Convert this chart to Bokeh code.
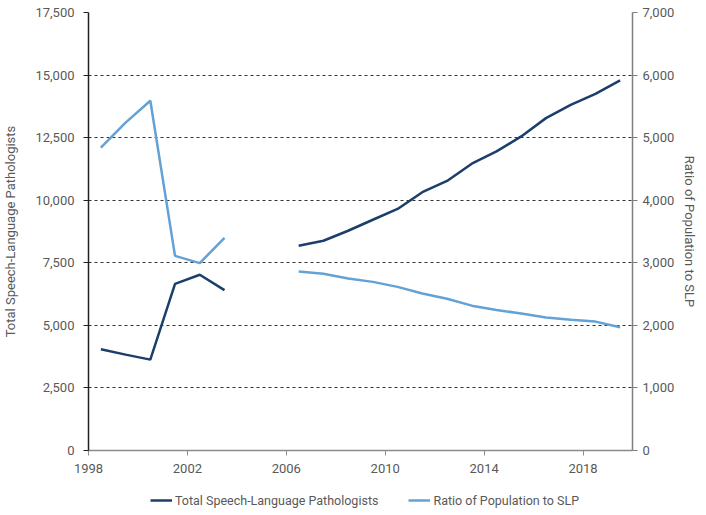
from bokeh.plotting import figure
from bokeh.models import (Range1d, LinearAxis, FixedTicker, NumeralTickFormatter,
                          Legend, LegendItem, ColumnDataSource)
from bokeh.layouts import column
from bokeh.embed import file_html
from bokeh.resources import INLINE
import numpy as np

# ---- data ----
years = list(range(1998, 2020))
total_slp = [4045, 3830, 3630, 6660, 7020, 6410, np.nan, np.nan,
             8180, 8380, 8780, 9220, 9650, 10320, 10770, 11460,
             11950, 12550, 13280, 13810, 14250, 14790]
ratio = [4840, 5240, 5590, 3110, 2995, 3400, np.nan, np.nan,
         2860, 2825, 2750, 2695, 2615, 2510, 2425, 2315,
         2245, 2190, 2125, 2088, 2060, 1970]
tick_years = [1998, 2002, 2006, 2010, 2014, 2018]
left_ticks = [0, 2500, 5000, 7500, 10000, 12500, 15000, 17500]
right_ticks = [0, 1000, 2000, 3000, 4000, 5000, 6000, 7000]

series_names = ["Total Speech-Language Pathologists", "Ratio of Population to SLP"]
dark = "#1b3f6a"
light = "#64a2d6"
txt = "#595959"
FONT = "Roboto"
W = 700

src = ColumnDataSource(dict(year=years, total=total_slp, ratio=ratio))

p = figure(width=W, height=490, output_backend="svg", toolbar_location=None,
           x_range=Range1d(years[0] - 0.5, years[-1] + 0.5),
           y_range=Range1d(0, 17500),
           min_border_left=86, min_border_right=W - 642, min_border_top=12, min_border_bottom=40)
p.outline_line_color = None
p.background_fill_color = "white"
p.border_fill_color = "white"
p.extra_y_ranges = {"ratio": Range1d(0, 7000)}

r1 = p.line("year", "total", source=src, line_color=dark, line_width=2.5)
r2 = p.line("year", "ratio", source=src, y_range_name="ratio", line_color=light, line_width=2.5)

# x axis
xa = p.xaxis[0]
xticks = [y - 0.5 for y in tick_years]
xa.ticker = FixedTicker(ticks=xticks)
xa.major_label_overrides = {t: str(y) for t, y in zip(xticks, tick_years)}
xa.axis_line_color = "#8c8c8c"
xa.axis_line_width = 1.5
xa.major_tick_line_color = "#8c8c8c"
xa.major_tick_out = 5
xa.major_tick_in = 0
xa.minor_tick_line_color = None
xa.major_label_text_font = FONT
xa.major_label_text_font_size = "13px"
xa.major_label_text_color = txt
xa.major_label_standoff = 8

# left axis
ya = p.yaxis[0]
ya.ticker = FixedTicker(ticks=left_ticks)
ya.formatter = NumeralTickFormatter(format="0,0")
ya.axis_line_color = "#222222"
ya.axis_line_width = 1.5
ya.major_tick_line_color = "#222222"
ya.major_tick_out = 5
ya.major_tick_in = 0
ya.minor_tick_line_color = None
ya.major_label_text_font = FONT
ya.major_label_text_font_size = "13px"
ya.major_label_text_color = txt
ya.major_label_standoff = 9
ya.axis_label = series_names[0]
ya.axis_label_text_font = FONT
ya.axis_label_text_font_size = "13px"
ya.axis_label_text_font_style = "normal"
ya.axis_label_text_color = txt
ya.axis_label_standoff = 14

# right axis
ra = LinearAxis(y_range_name="ratio", ticker=FixedTicker(ticks=right_ticks),
                formatter=NumeralTickFormatter(format="0,0"))
ra.axis_line_color = "#7f7f7f"
ra.axis_line_width = 1.5
ra.major_tick_line_color = "#7f7f7f"
ra.major_tick_out = 5
ra.major_tick_in = 0
ra.minor_tick_line_color = None
ra.major_label_text_font = FONT
ra.major_label_text_font_size = "13px"
ra.major_label_text_color = txt
ra.major_label_standoff = 5
ra.axis_label = series_names[1]
ra.axis_label_text_font = FONT
ra.axis_label_text_font_size = "13px"
ra.axis_label_text_font_style = "normal"
ra.axis_label_text_color = txt
ra.axis_label_standoff = 5
p.add_layout(ra, "right")

# grid
p.xgrid.grid_line_color = None
p.ygrid.ticker = FixedTicker(ticks=left_ticks[1:])
p.ygrid.grid_line_color = "#333333"
p.ygrid.grid_line_dash = "3 3"
p.ygrid.grid_line_width = 1

# legend strip (separate figure below the chart)
lg = figure(width=W, height=20, output_backend="svg", toolbar_location=None,
            x_range=Range1d(0, 1), y_range=Range1d(0, 1),
            x_axis_location=None, y_axis_location=None,
            min_border_left=0, min_border_right=0, min_border_top=0, min_border_bottom=0)
lg.outline_line_color = None
lg.xgrid.grid_line_color = None
lg.ygrid.grid_line_color = None
l1 = lg.line("year", "total", source=src, line_color=dark, line_width=2.5)
l2 = lg.line("year", "ratio", source=src, line_color=light, line_width=2.5)
legend = Legend(items=[LegendItem(label=series_names[0], renderers=[l1]),
                       LegendItem(label=series_names[1], renderers=[l2])],
                orientation="horizontal", location=(61, 0),
                label_text_font=FONT, label_text_font_size="12.5px",
                label_text_color=txt, glyph_width=22, glyph_height=18,
                label_standoff=3, label_height=18,
                spacing=30, padding=1, margin=0,
                border_line_alpha=0, background_fill_alpha=0)
lg.add_layout(legend, "center")

open("out.html", "w").write(file_html(column(p, lg), INLINE))
